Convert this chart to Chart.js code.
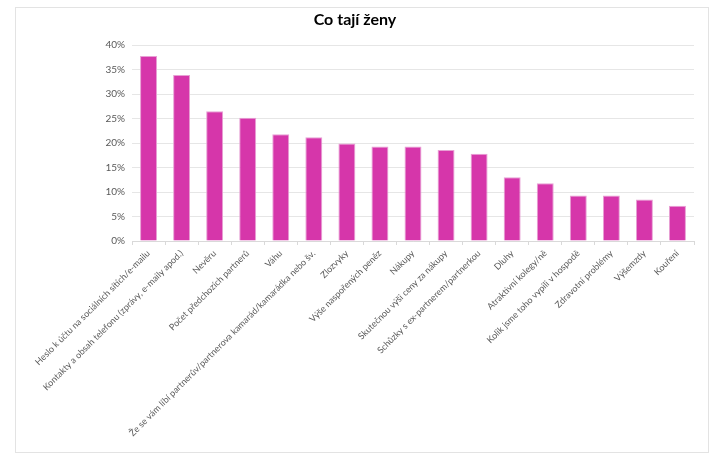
<!DOCTYPE html>
<html>
<head>
<meta charset="utf-8">
<script src="https://cdn.jsdelivr.net/npm/chart.js@4.4.1/dist/chart.umd.min.js"></script>
<style>
  html, body { margin: 0; padding: 0; background: #fff; }
  #frame {
    position: absolute; left: 15px; top: 7px;
    width: 692px; height: 444px;
    border: 1px solid #e3e3e3;
    background: #fff;
  }
  #chart { display: block; }
</style>
</head>
<body>
<div id="frame"><canvas id="chart" width="692" height="444"></canvas></div>
<script>
// Kategorie a hodnoty (v %)
const categories = [
    'Heslo k účtu na sociálních sítích/e-mailu',
    'Kontakty a obsah telefonu (zprávy, e-maily apod.)',
    'Nevěru',
    'Počet předchozích partnerů',
    'Váhu',
    'Že se vám líbí partnerův/partnerova kamarád/kamarádka nebo šv.',
    'Zlozvyky',
    'Výše naspořených peněz',
    'Nákupy',
    'Skutečnou výši ceny za nákupy',
    'Schůzky s ex-partnerem/partnerkou',
    'Dluhy',
    'Atraktivní kolegy/ně',
    'Kolik jsme toho vypili v hospodě',
    'Zdravotní problémy',
    'Výšemzdy',
    'Kouření'
];
const values = [37.8, 33.9, 26.5, 25.2, 21.8, 21.2, 19.9, 19.3, 19.3, 18.6, 17.8, 13.0, 11.8, 9.3, 9.3, 8.5, 7.2];
const yTicks = [0, 5, 10, 15, 20, 25, 30, 35, 40];

const ctx = document.getElementById('chart');
new Chart(ctx, {
    type: 'bar',
    data: {
        labels: categories,
        datasets: [{
            data: values,
            backgroundColor: '#D636AA',
            borderColor: '#E7A0D4',
            borderWidth: 1,
            barPercentage: 0.9,
            categoryPercentage: 0.57
        }]
    },
    options: {
        responsive: false,
        animation: false,
        layout: { padding: { left: 0, right: 14, top: 0, bottom: 0 } },
        plugins: {
            legend: { display: false },
            tooltip: { enabled: false },
            title: {
                display: true,
                text: 'Co tají ženy',
                color: '#000',
                font: { family: 'Lato', size: 16, weight: 'bold' },
                padding: { top: 2, bottom: 16 }
            }
        },
        scales: {
            x: {
                grid: {
                    display: true,
                    drawOnChartArea: false,
                    drawTicks: true,
                    tickLength: 4,
                    color: '#d9d9d9'
                },
                border: { display: true, color: '#d9d9d9' },
                ticks: {
                    autoSkip: false,
                    minRotation: 45,
                    maxRotation: 45,
                    padding: 3,
                    color: '#595959',
                    font: { family: 'Lato', size: 9 }
                },
                afterFit: function (scale) { scale.height = 211; }
            },
            y: {
                min: 0,
                max: 40,
                afterBuildTicks: function (scale) {
                    scale.ticks = yTicks.map(function (v) { return { value: v }; });
                },
                grid: { color: '#e6e6e6', drawTicks: false },
                border: { display: false },
                ticks: {
                    padding: 7,
                    color: '#595959',
                    font: { family: 'Lato', size: 10 },
                    callback: function (v) { return v + '%'; }
                },
                afterFit: function (scale) { scale.width = 116; }
            }
        }
    }
});
</script>
</body>
</html>
